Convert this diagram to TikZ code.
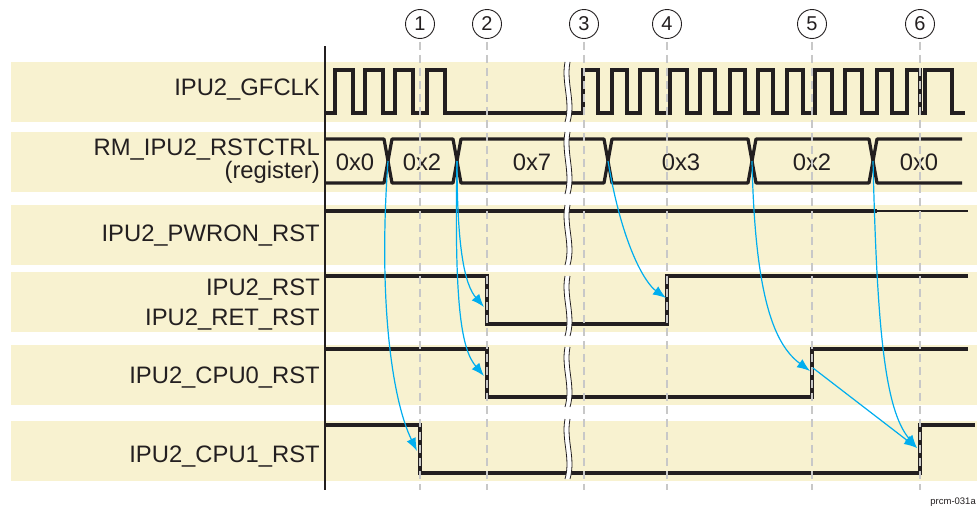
\documentclass[tikz,border=0pt]{standalone}
\usepackage{fontspec}
\setmainfont{Liberation Sans}
\usetikzlibrary{arrows.meta}
\definecolor{bandc}{RGB}{248,242,208}
\definecolor{arrc}{RGB}{0,174,239}
\definecolor{dashc}{RGB}{200,200,200}
\definecolor{sigc}{RGB}{35,31,32}
\begin{document}
\begin{tikzpicture}[x=1pt,y=-1pt,
  bandfill/.style={fill=bandc,draw=none},
  lbl/.style={anchor=base east,inner sep=0pt,font=\fontsize{23.8}{26}\selectfont,text=sigc},
  val/.style={anchor=base,inner sep=0pt,font=\fontsize{23.8}{26}\selectfont,text=sigc},
  sigline/.style={draw=sigc,line width=3.2pt},
  thinsig/.style={draw=sigc,line width=1.2pt},
  busline/.style={draw=sigc,line width=3.2pt,line join=round},
  brkline/.style={draw=sigc,line width=0.8pt},
  dashline/.style={draw=dashc,line width=1.5pt,dash pattern=on 8pt off 5pt},
  circ/.style={circle,draw=sigc,line width=0.9pt,minimum size=29pt,inner sep=0pt,font=\fontsize{20}{22}\selectfont,text=sigc},
  cause/.style={draw=arrc,line width=1.2pt,-{Latex[length=13pt,width=10pt]}},
  axisline/.style={draw=sigc,line width=2pt}
]
\fill[white] (0,0) rectangle (977,506);
\useasboundingbox (0,0) rectangle (977,506);

% bands
\foreach \ya/\yb in {62/122,132/192,205/265,272/332,345/405,421/481}
  \fill[bandfill] (11,\ya) rectangle (977,\yb);

% labels
\node[lbl] (lgf)  at (320,95)  {IPU2\_GFCLK};
\node[lbl] (lrm)  at (320,155) {RM\_IPU2\_RSTCTRL};
\node[lbl] (lreg) at (320,178) {(register)};
\node[lbl] (lpw)  at (320,241) {IPU2\_PWRON\_RST};
\node[lbl] (lrst) at (320,295) {IPU2\_RST};
\node[lbl] (lret) at (320,325) {IPU2\_RET\_RST};
\node[lbl] (lc0)  at (320,383) {IPU2\_CPU0\_RST};
\node[lbl] (lc1)  at (320,462) {IPU2\_CPU1\_RST};

% axis
\coordinate (axt) at (325,46);
\coordinate (axb) at (325,490);
\draw[axisline] (axt) -- (axb);

% clock
\draw[sigline] (325,113) -- (335,113) -- (335,70) -- (353,70) -- (353,113) -- (365,113) -- (365,70) -- (383,70) -- (383,113) -- (395,113) -- (395,70) -- (413,70) -- (413,113) -- (427,113) -- (427,70) -- (445,70) -- (445,113) -- (583,113)
 -- (583,70) -- (598,70) -- (598,113) -- (612,113) -- (612,70) -- (627,70) -- (627,113) -- (640,113) -- (640,70) -- (657,70) -- (657,113) -- (670,113) -- (670,70) -- (687,70) -- (687,113) -- (700,113) -- (700,70) -- (715,70) -- (715,113) -- (730,113) -- (730,70) -- (745,70) -- (745,113) -- (758,113) -- (758,70) -- (773,70) -- (773,113) -- (787,113) -- (787,70) -- (803,70) -- (803,113) -- (815,113) -- (815,70) -- (832,70) -- (832,113) -- (845,113) -- (845,70) -- (862,70) -- (862,113) -- (877,113) -- (877,70) -- (892,70) -- (892,113) -- (907,113) -- (907,70) -- (920,70) -- (920,113) -- (925,113) -- (925,70) -- (952,70) -- (952,113) -- (965,113);

% register bus
\coordinate (x1) at (388,161);
\coordinate (x2) at (457,161);
\coordinate (x3) at (608,161);
\coordinate (x4) at (752,161);
\coordinate (x5) at (873,161);
\draw[busline] (325,139) -- (384,139) -- (x1) -- (384,183) -- (325,183);
\foreach \a/\b in {388/457,457/608,608/752,752/873}
  \draw[busline] (\a,161) -- (\a+4,139) -- (\b-4,139) -- (\b,161) -- (\b-4,183) -- (\a+4,183) -- cycle;
\draw[busline] (962,139) -- (877,139) -- (x5) -- (877,183) -- (962,183);
\node[val] (v1) at (355,170) {0x0};
\node[val] (v2) at (422,170) {0x2};
\node[val] (v3) at (532,170) {0x7};
\node[val] (v4) at (681,170) {0x3};
\node[val] (v5) at (812,170) {0x2};
\node[val] (v6) at (919,170) {0x0};

% PWRON
\draw[sigline] (325,211) -- (877,211);
\draw[thinsig] (877,211) -- (968,211);
% RST / RET
\draw[sigline] (325,276) -- (487,276) -- (487,324) -- (667,324) -- (667,276) -- (968,276);
% CPU0
\draw[sigline] (325,349) -- (487,349) -- (487,397) -- (812,397) -- (812,349) -- (968,349);
% CPU1
\draw[sigline] (325,425) -- (420,425) -- (420,473) -- (920,473) -- (920,425) -- (975,425);

% break marks
\foreach \ya/\yb in {62/122,132/194,205/265,276/336,347/407,419/479}{
  \fill[white] (565,\ya) .. controls (561,\ya+21) and (571,\yb-21) .. (565,\yb) -- (570,\yb) .. controls (576,\yb-21) and (566,\ya+21) .. (570,\ya) -- cycle;
  \draw[brkline] (565,\ya) .. controls (561,\ya+21) and (571,\yb-21) .. (565,\yb);
  \draw[brkline] (570,\ya) .. controls (566,\ya+21) and (576,\yb-21) .. (570,\yb);
}

% markers
\foreach \n/\x in {1/420,2/487,3/584,4/667,5/812,6/920}{
  \node[circ] (m\n) at (\x,24) {\n};
  \coordinate (d\n) at (\x,490);
  \draw[dashline] ([yshift=-3pt]m\n.south) -- (d\n);
}

% cause arrows
\coordinate (e1) at (417,451);
\coordinate (e2) at (484,307);
\coordinate (e3) at (484,376);
\coordinate (e4) at (666,298);
\coordinate (e5) at (810,371);
\coordinate (s6) at (813,368);
\coordinate (e6) at (917,448);
\draw[cause] (x1) .. controls (378,300) and (392,400) .. (e1);
\draw[cause] (x2) .. controls (457,250) and (465,285) .. (e2);
\draw[cause] (x2) .. controls (454,310) and (462,350) .. (e3);
\draw[cause] (x3) .. controls (622,245) and (645,283) .. (e4);
\draw[cause] (x4) .. controls (755,300) and (775,345) .. (e5);
\draw[cause] (s6) -- (e6);
\draw[cause] (x5) .. controls (877,330) and (885,410) .. (e6);

\node[anchor=base east,inner sep=0pt,font=\fontsize{9.5}{10}\selectfont,text=sigc] (fig) at (976,504) {prcm-031a};
\end{tikzpicture}
\end{document}
